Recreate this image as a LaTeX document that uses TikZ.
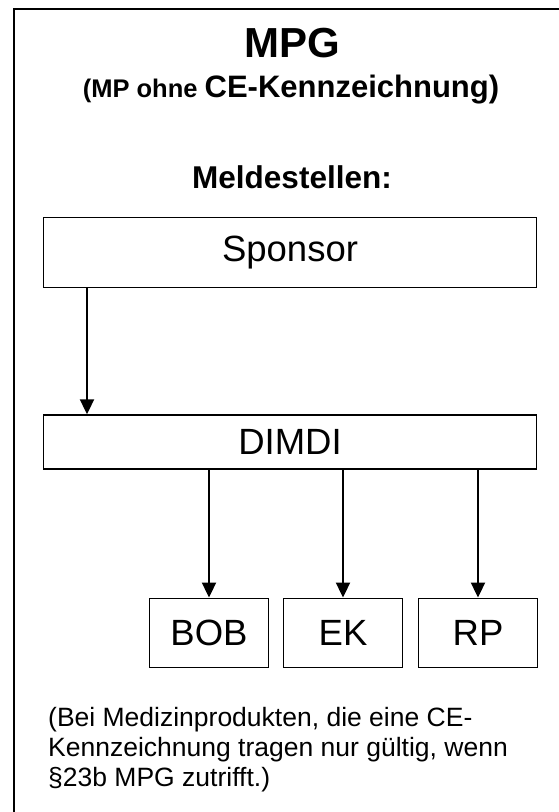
\documentclass[tikz,border=0pt]{standalone}
\usepackage{fontspec}
\setmainfont{Liberation Sans}
\usetikzlibrary{arrows.meta}
\begin{document}
\begin{tikzpicture}[x=1pt, y=-1pt,
	stelle/.style={draw, line width=1.4pt, inner sep=0pt, font=\fontsize{36.5}{42}\selectfont},
	pfeil/.style={line width=2pt, -{Triangle[width=14pt, length=15pt]}}]
	\useasboundingbox (0,0) rectangle (559,812);
	\clip (0,0) rectangle (559,812);
	\draw[line width=2pt] (13.5,8.5) rectangle (600,850);
	\node[anchor=base, font=\fontsize{42}{48}\selectfont\bfseries] (mpg) at (292,57) {MPG};
	\node[anchor=base, font=\bfseries] (untertitel) at (291,97) {\fontsize{25.5}{30}\selectfont(MP ohne \fontsize{31}{36}\selectfont CE-Kennzeichnung)};
	\node[anchor=base, font=\fontsize{31.5}{36}\selectfont\bfseries] (melde) at (292,188) {Meldestellen:};
	\node[stelle, minimum width=493pt, minimum height=70pt] (sponsor) at (290,252.5) {Sponsor};
	\node[stelle, minimum width=493pt, minimum height=54pt] (dimdi) at (290,442) {DIMDI};
	\node[stelle, minimum width=119.5pt, minimum height=69.5pt] (bob) at (209,633) {BOB};
	\node[stelle, minimum width=119.5pt, minimum height=69.5pt] (ek) at (343,633) {EK};
	\node[stelle, minimum width=119.5pt, minimum height=69.5pt] (rp) at (478,633) {RP};
	\coordinate (s1) at (87,287.5);
	\draw[pfeil] (s1) -- (s1 |- dimdi.north);
	\draw[pfeil] (bob.north |- dimdi.south) -- (bob.north);
	\draw[pfeil] (ek.north |- dimdi.south) -- (ek.north);
	\draw[pfeil] (rp.north |- dimdi.south) -- (rp.north);
	\node[anchor=north west, align=left, inner sep=0pt, font=\fontsize{26.5}{30}\selectfont] (hinweis) at (48,707) {(Bei Medizinprodukten, die eine CE-\\Kennzeichnung tragen nur gültig, wenn\\§23b MPG zutrifft.)};
\end{tikzpicture}
\end{document}
